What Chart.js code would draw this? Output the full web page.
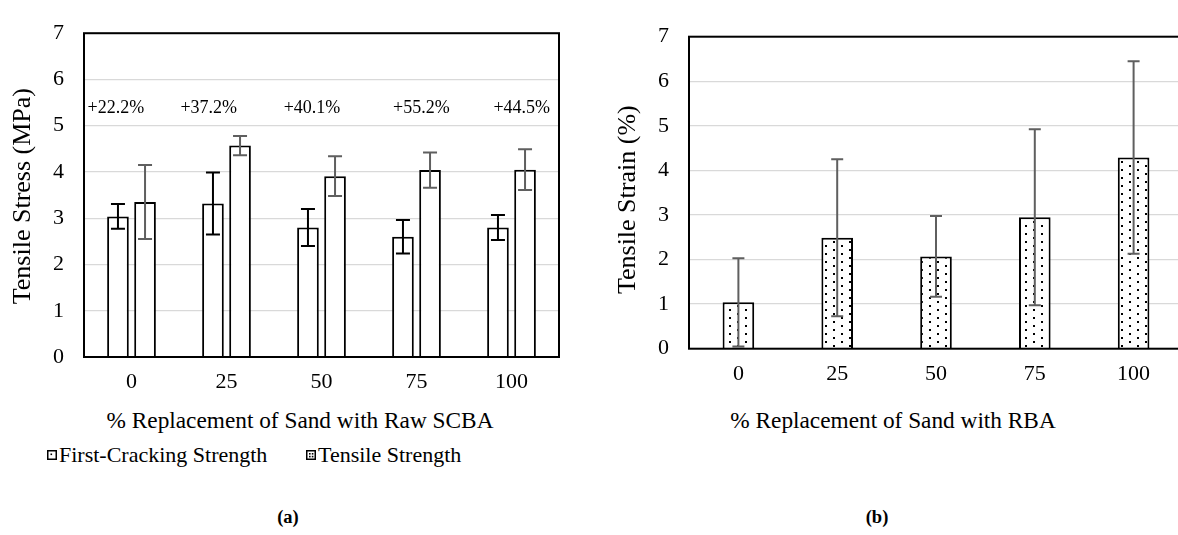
<!DOCTYPE html>
<html>
<head>
<meta charset="utf-8">
<script src="https://cdn.jsdelivr.net/npm/chart.js@4.4.1/dist/chart.umd.min.js"></script>
<style>
  html, body { margin: 0; padding: 0; background: #fff; }
  body { width: 1178px; height: 535px; overflow: hidden; position: relative;
         font-family: 'Liberation Serif', 'Times New Roman', serif; color: #000; }
  .box { position: absolute; top: 0; }
  .txt { position: absolute; white-space: nowrap; line-height: 1; }
  .legend-item { position: absolute; display: flex; align-items: center; white-space: nowrap; font-size: 22px; line-height: 1; }
  .legend-item canvas { margin-right: 2px; }
</style>
</head>
<body>
<div class="box" style="left:0;width:590px;height:400px"><canvas id="chartA" width="590" height="400"></canvas></div>
<div class="box" style="left:590px;width:610px;height:400px"><canvas id="chartB" width="610" height="400"></canvas></div>

<div class="txt" id="titleA" style="font-size:23.3px;">% Replacement of Sand with Raw SCBA</div>
<div class="txt" id="titleB" style="font-size:23.3px;">% Replacement of Sand with RBA</div>
<div class="legend-item" id="legFC" style="left:47px;top:444px;"><canvas id="icoFC" width="10" height="10"></canvas>First-Cracking Strength</div>
<div class="legend-item" id="legTS" style="left:306px;top:444px;"><canvas id="icoTS" width="10" height="10"></canvas>Tensile Strength</div>
<div class="txt" id="capA" style="font-size:18.5px;font-weight:bold;">(a)</div>
<div class="txt" id="capB" style="font-size:18.5px;font-weight:bold;">(b)</div>

<script>
// ---- data ----
const replacement = ['0', '25', '50', '75', '100'];

// (a) raw SCBA mixes: stresses in MPa
const firstCracking    = [3.04, 3.32, 2.80, 2.60, 2.80];
const firstCrackingSD  = [0.27, 0.67, 0.40, 0.36, 0.27];
const tensileStrength  = [3.35, 4.57, 3.91, 4.04, 4.05];
const tensileStrengthSD= [0.80, 0.21, 0.43, 0.38, 0.44];
const gainLabels       = ['+22.2%', '+37.2%', '+40.1%', '+55.2%', '+44.5%'];

// (b) RBA mixes: tensile strain in %
const tensileStrain    = [1.04, 2.49, 2.07, 2.95, 4.29];
const tensileStrainSD  = [0.99, 1.76, 0.905, 1.975, 2.16];

const yTicks = [0, 1, 2, 3, 4, 5, 6, 7];

// ---- shared styling ----
const FONT = "'Liberation Serif', 'Times New Roman', serif";
const GRID = '#d9d9d9';
const ERR_GRAY = '#5f5f5f';

function place(id, cx, cy) {
  const el = document.getElementById(id);
  const r = el.getBoundingClientRect();
  el.style.left = (cx - r.width / 2) + 'px';
  el.style.top = (cy - r.height / 2) + 'px';
}
place('titleA', 300, 421);
place('titleB', 893, 421);
place('capA', 288, 517);
place('capB', 877, 517);

// dotted fill used for the strain bars
function dotPattern() {
  const c = document.createElement('canvas');
  c.width = 16; c.height = 8;
  const g = c.getContext('2d');
  g.fillStyle = '#fff';
  g.fillRect(0, 0, 16, 8);
  g.fillStyle = '#000';
  g.fillRect(3, 1, 2, 2);
  g.fillRect(11, 5, 2, 2);
  return g.createPattern(c, 'repeat');
}

// legend swatches
(function () {
  const a = document.getElementById('icoFC').getContext('2d');
  a.fillStyle = '#fff'; a.fillRect(0, 0, 10, 10);
  a.strokeStyle = '#000'; a.lineWidth = 1.5; a.strokeRect(0.75, 0.75, 8.5, 8.5);
  a.fillStyle = '#000'; a.fillRect(3.5, 3.5, 1.6, 1.6);
  const b = document.getElementById('icoTS').getContext('2d');
  b.fillStyle = '#fff'; b.fillRect(0, 0, 10, 10);
  b.strokeStyle = '#000'; b.lineWidth = 1.5; b.strokeRect(0.75, 0.75, 8.5, 8.5);
  b.fillStyle = '#000';
  b.fillRect(3, 3, 1.6, 1.6); b.fillRect(5.8, 3, 1.6, 1.6);
  b.fillRect(3, 5.8, 1.6, 1.6); b.fillRect(5.8, 5.8, 1.6, 1.6);
})();

// frame around the plot area
const framePlugin = {
  id: 'frame',
  afterDraw(chart) {
    const { ctx, chartArea: a } = chart;
    ctx.save();
    ctx.strokeStyle = '#000';
    ctx.lineWidth = 2;
    ctx.strokeRect(a.left, a.top, a.right - a.left, a.bottom - a.top);
    ctx.restore();
  }
};

// symmetric error bars, read from dataset.errors
const errorBarPlugin = {
  id: 'errorBars',
  afterDatasetsDraw(chart) {
    const { ctx } = chart;
    const y = chart.scales.y;
    chart.data.datasets.forEach((ds, di) => {
      if (!ds.errors) return;
      const meta = chart.getDatasetMeta(di);
      ctx.save();
      ctx.strokeStyle = ds.errorColor;
      ctx.lineWidth = 2;
      meta.data.forEach((bar, i) => {
        const v = ds.data[i], e = ds.errors[i];
        const yTop = y.getPixelForValue(v + e);
        const yBot = y.getPixelForValue(v - e);
        const half = ds.capWidth / 2;
        ctx.beginPath();
        ctx.moveTo(bar.x, yTop); ctx.lineTo(bar.x, yBot);
        ctx.moveTo(bar.x - half, yTop); ctx.lineTo(bar.x + half, yTop);
        ctx.moveTo(bar.x - half, yBot); ctx.lineTo(bar.x + half, yBot);
        ctx.stroke();
      });
      ctx.restore();
    });
  }
};

// percentage gain written above each group
const gainPlugin = {
  id: 'gains',
  afterDatasetsDraw(chart, args, opts) {
    if (!opts.labels) return;
    const { ctx } = chart;
    const x = chart.scales.x, y = chart.scales.y;
    ctx.save();
    ctx.font = '18px ' + FONT;
    ctx.fillStyle = '#000';
    ctx.textAlign = 'center';
    ctx.textBaseline = 'middle';
    opts.labels.forEach((t, i) => {
      ctx.fillText(t, x.getPixelForValue(i) + opts.shift[i], y.getPixelForValue(opts.level));
    });
    ctx.restore();
  }
};

// rotated value-axis caption, placed beside the axis
const sideTitlePlugin = {
  id: 'sideTitle',
  afterDraw(chart, args, opts) {
    if (!opts.text) return;
    const { ctx, chartArea: a } = chart;
    ctx.save();
    ctx.font = '26px ' + FONT;
    ctx.fillStyle = '#000';
    ctx.textAlign = 'center';
    ctx.textBaseline = 'middle';
    ctx.translate(opts.x, (a.top + a.bottom) / 2 + opts.dy);
    ctx.rotate(-Math.PI / 2);
    ctx.fillText(opts.text, 0, 0);
    ctx.restore();
  }
};

function axes(yWidth, xHeight) {
  return {
    x: {
      grid: { display: false, drawTicks: false },
      border: { display: false },
      ticks: { font: { family: FONT, size: 22 }, color: '#000', padding: 12 },
      afterFit(s) { s.height = xHeight; }
    },
    y: {
      min: 0, max: 7,
      afterBuildTicks(s) { s.ticks = yTicks.map(v => ({ value: v })); },
      grid: { color: GRID, lineWidth: 1.3, drawTicks: false },
      border: { display: false },
      ticks: { font: { family: FONT, size: 22 }, color: '#000', padding: 20 },
      afterFit(s) { s.width = yWidth; }
    }
  };
}

Chart.defaults.animation = false;

new Chart(document.getElementById('chartA'), {
  type: 'bar',
  data: {
    labels: replacement,
    datasets: [
      { label: 'First-Cracking Strength', data: firstCracking, errors: firstCrackingSD,
        errorColor: '#000', capWidth: 14,
        backgroundColor: '#fff', borderColor: '#000', borderWidth: 2,
        categoryPercentage: 0.57, barPercentage: 0.8 },
      { label: 'Tensile Strength', data: tensileStrength, errors: tensileStrengthSD,
        errorColor: ERR_GRAY, capWidth: 14,
        backgroundColor: '#fff', borderColor: '#000', borderWidth: 2,
        categoryPercentage: 0.57, barPercentage: 0.8 }
    ]
  },
  options: {
    responsive: false,
    layout: { padding: { left: 0, top: 18, right: 31, bottom: 0 } },
    plugins: {
      legend: { display: false }, tooltip: { enabled: false },
      gains: { labels: gainLabels, level: 5.38, shift: [-15.7, -17.8, -9.5, 4.8, 10.2] },
      sideTitle: { text: 'Tensile Stress (MPa)', x: 23, dy: 1 }
    },
    scales: axes(84, 43)
  },
  plugins: [framePlugin, errorBarPlugin, gainPlugin, sideTitlePlugin]
});

new Chart(document.getElementById('chartB'), {
  type: 'bar',
  data: {
    labels: replacement,
    datasets: [
      { label: 'Tensile Strain', data: tensileStrain, errors: tensileStrainSD,
        errorColor: ERR_GRAY, capWidth: 12,
        backgroundColor: dotPattern(), borderColor: '#000', borderWidth: 2,
        categoryPercentage: 1, barPercentage: 0.32 }
    ]
  },
  options: {
    responsive: false,
    layout: { padding: { left: 0, top: 36.7, right: 17, bottom: 0 } },
    plugins: {
      legend: { display: false }, tooltip: { enabled: false }, gains: {},
      sideTitle: { text: 'Tensile Strain (%)', x: 38.5, dy: 7 }
    },
    scales: axes(99, 51.3)
  },
  plugins: [framePlugin, errorBarPlugin, gainPlugin, sideTitlePlugin]
});
</script>
</body>
</html>
